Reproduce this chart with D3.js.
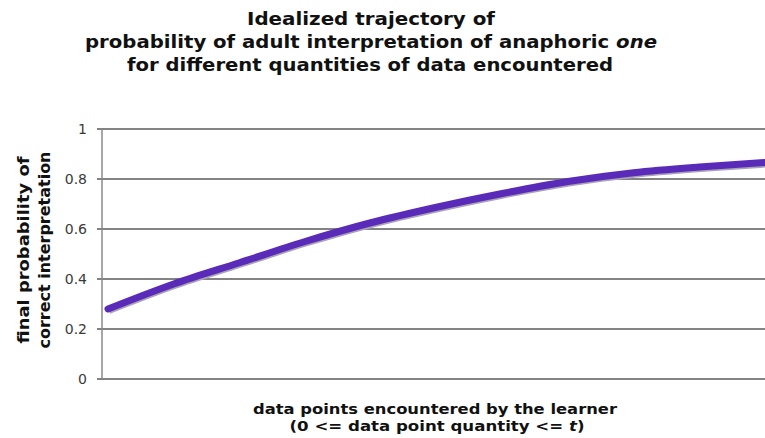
<!DOCTYPE html>
<html>
<head>
<meta charset="utf-8">
<script src="https://cdn.jsdelivr.net/npm/d3@7"></script>
<style>
  body { margin: 0; background: #fff; }
  svg { display: block; font-family: "DejaVu Sans", Verdana, sans-serif; }
</style>
</head>
<body>
<script>
// data points encountered (category index) and probability
const steps = [0, 1, 2, 3, 4, 5, 6, 7, 8, 9, 10];
const probability = [0.28, 0.38, 0.465, 0.55, 0.625, 0.687, 0.742, 0.79, 0.825, 0.848, 0.866];
const yTicks = [0, 0.2, 0.4, 0.6, 0.8, 1];

const width = 765, height = 438;
const plot = { left: 102, right: 765, top: 129, bottom: 379 };

const svg = d3.select("body").append("svg")
  .attr("width", width)
  .attr("height", height);

const x = d3.scaleLinear().domain([0, 10]).range([108, 765]);
const y = d3.scaleLinear().domain([0, 1]).range([plot.bottom, plot.top]);

// gridlines (with the little tick stub on the left)
svg.append("g")
  .selectAll("line")
  .data(yTicks)
  .join("line")
  .attr("x1", plot.left - 5)
  .attr("x2", plot.right)
  .attr("y1", d => y(d))
  .attr("y2", d => y(d))
  .attr("stroke", "#5a5a5a")
  .attr("stroke-width", 1.5);

// y axis line
svg.append("line")
  .attr("x1", plot.left).attr("x2", plot.left)
  .attr("y1", plot.top).attr("y2", plot.bottom)
  .attr("stroke", "#8a8a8a")
  .attr("stroke-width", 1.5);

// tick labels
svg.append("g")
  .selectAll("text")
  .data(yTicks)
  .join("text")
  .attr("x", 87)
  .attr("y", d => y(d) + 5)
  .attr("text-anchor", "end")
  .attr("font-size", 14)
  .attr("fill", "#3a3a3a")
  .text(d => d);

const line = d3.line()
  .x((d, i) => x(steps[i]))
  .y(d => y(d))
  .curve(d3.curveMonotoneX);

// soft grey shadow under the series
svg.append("path")
  .datum(probability)
  .attr("d", line)
  .attr("transform", "translate(1,2)")
  .attr("fill", "none")
  .attr("stroke", "#aaa2b8")
  .attr("stroke-width", 6);

svg.append("path")
  .datum(probability)
  .attr("d", line)
  .attr("fill", "none")
  .attr("stroke", "#5a2ab8")
  .attr("stroke-width", 7)
  .attr("stroke-linecap", "round");

// helper: a line of bold text stretched to the width seen in the picture
function label(parent, cx, cy, len, size) {
  return parent.append("text")
    .attr("x", cx - len / 2)
    .attr("y", cy)
    .attr("textLength", len)
    .attr("lengthAdjust", "spacingAndGlyphs")
    .attr("font-size", size)
    .attr("font-weight", "bold")
    .attr("fill", "#111");
}

// title
label(svg, 371, 25, 248, 17).text("Idealized trajectory of");
const t2 = label(svg, 371, 48, 572, 17);
t2.append("tspan").text("probability of adult interpretation of anaphoric ");
t2.append("tspan").attr("font-style", "italic").text("one");
label(svg, 370, 71, 486, 17).text("for different quantities of data encountered");

// y axis title
const yg = svg.append("g").attr("transform", "translate(0,250) rotate(-90)");
label(yg, 0, 29, 187, 15).text("final probability of");
label(yg, 0, 50, 197, 15).text("correct interpretation");

// x axis title
label(svg, 435, 414, 364, 14).text("data points encountered by the learner");
const xl2 = label(svg, 437, 431, 295, 14);
xl2.append("tspan").text("(0 <= data point quantity <= ");
xl2.append("tspan").attr("font-style", "italic").text("t");
xl2.append("tspan").text(")");
</script>
</body>
</html>
